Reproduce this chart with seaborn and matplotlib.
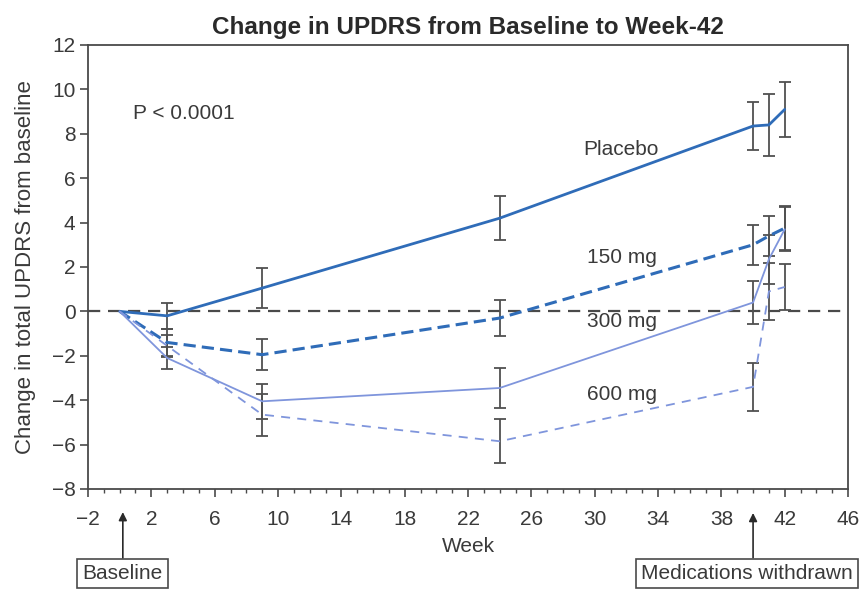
import matplotlib
matplotlib.use('Agg')
import matplotlib.pyplot as plt
from matplotlib.ticker import MultipleLocator, FixedLocator
import numpy as np
import pandas as pd
import seaborn as sns

# data (weeks, mean change, half-width of error bar)
weeks = [0, 3, 9, 24, 40, 41, 42]

placebo = [0, -0.2, 1.05, 4.2, 8.35, 8.4, 9.1]
placebo_err = [0, 0.6, 0.9, 1.0, 1.1, 1.4, 1.25]

mg150 = [0, -1.4, -1.95, -0.3, 3.0, 3.4, 3.75]
mg150_err = [0, 0.6, 0.7, 0.8, 0.9, 0.9, 1.0]

mg300 = [0, -2.1, -4.05, -3.45, 0.4, 2.35, 3.7]
mg300_err = [0, 0.5, 0.8, 0.9, 0.95, 1.1, 1.0]

mg600 = [0, -1.55, -4.65, -5.85, -3.4, 0.9, 1.1]
mg600_err = [0, 0.5, 0.95, 1.0, 1.07, 1.3, 1.05]

groups = ['Placebo', '150 mg', '300 mg', '600 mg']

xticks = list(range(-2, 47, 4))
yticks = list(range(-8, 13, 2))

df = pd.concat([
    pd.DataFrame({'Week': weeks, 'Change': placebo, 'Err': placebo_err, 'Group': 'Placebo'}),
    pd.DataFrame({'Week': weeks, 'Change': mg150, 'Err': mg150_err, 'Group': '150 mg'}),
    pd.DataFrame({'Week': weeks, 'Change': mg300, 'Err': mg300_err, 'Group': '300 mg'}),
    pd.DataFrame({'Week': weeks, 'Change': mg600, 'Err': mg600_err, 'Group': '600 mg'}),
], ignore_index=True)

# line look per group
styles = {
    'Placebo': dict(color='#2f6cb8', lw=2.0, dashes=None),
    '150 mg': dict(color='#2f6cb8', lw=2.2, dashes=(4, 2)),
    '300 mg': dict(color='#7f95dc', lw=1.3, dashes=None),
    '600 mg': dict(color='#7f95dc', lw=1.3, dashes=(5, 4)),
}
# where the group names sit
label_pos = {'Placebo': (29.3, 7.3), '150 mg': (29.5, 2.45),
             '300 mg': (29.5, -0.45), '600 mg': (29.5, -3.75)}

sns.set_theme(style='ticks')
plt.rcParams['font.family'] = ['Liberation Sans', 'DejaVu Sans']

fig = plt.figure(figsize=(8.61, 5.89), dpi=100)
ax = fig.add_axes([0.1022, 0.1698, 0.8828, 0.7538])

gray = '#4a4a4a'
tcol = '#3a3a3a'
fs = 15

# zero reference line
ax.axhline(0, color=gray, lw=1.6, dashes=(5.5, 3.5), zorder=1)

for g in groups:
    sub = df[df['Group'] == g]
    st = styles[g]
    line = sns.lineplot(data=sub, x='Week', y='Change', ax=ax, color=st['color'],
                        lw=st['lw'], zorder=3, legend=False)
    if st['dashes'] is not None:
        line.lines[-1].set_dashes(st['dashes'])
    e = sub[sub['Week'] > 0]
    ax.errorbar(e['Week'], e['Change'], yerr=e['Err'], fmt='none', ecolor='#505050',
                elinewidth=1.3, capsize=4, capthick=1.3, zorder=2)
    ax.text(label_pos[g][0], label_pos[g][1], g, fontsize=fs, color=tcol,
            ha='left', va='center', zorder=4)

ax.text(0.85, 8.9, 'P < 0.0001', fontsize=fs, color=tcol, ha='left', va='center')

ax.set_xlim(-2, 46)
ax.set_ylim(-8, 12)
ax.xaxis.set_major_locator(FixedLocator(xticks))
ax.xaxis.set_minor_locator(MultipleLocator(1))
ax.yaxis.set_major_locator(FixedLocator(yticks))
ax.set_xticklabels(['\u2212%d' % -t if t < 0 else str(t) for t in xticks])
ax.set_yticklabels(['\u2212%d' % -t if t < 0 else str(t) for t in yticks])

ax.tick_params(axis='both', which='major', direction='out', length=6, width=1.2,
               color=gray, labelsize=fs, labelcolor=tcol, pad=3)
ax.tick_params(axis='x', which='major', pad=9)
ax.tick_params(axis='x', which='minor', direction='out', length=3, width=1.0, color=gray)
for s in ax.spines.values():
    s.set_visible(True)
    s.set_color(gray)
    s.set_linewidth(1.3)

ax.set_xlabel('Week', fontsize=fs, color=tcol, labelpad=6)
ax.set_ylabel('Change in total UPDRS from baseline', fontsize=16, color=tcol, labelpad=11)
ax.set_title('Change in UPDRS from Baseline to Week-42', fontsize=17.5, fontweight='bold',
             color='#2a2a2a', pad=8)

# boxed annotations below the axis
box = dict(boxstyle='square,pad=0.25', fc='white', ec=gray, lw=1.2)
arrow = dict(arrowstyle='-|>', color='#2a2a2a', lw=1.2, mutation_scale=12, shrinkA=0, shrinkB=0)
ax.annotate('Baseline', xy=(0.2, -0.052), xycoords=('data', 'axes fraction'),
            xytext=(0.2, -0.19), textcoords=('data', 'axes fraction'),
            ha='center', va='center', fontsize=fs, color=tcol, bbox=box,
            arrowprops=arrow, annotation_clip=False)
ax.annotate('', xy=(40, -0.054), xycoords=('data', 'axes fraction'),
            xytext=(40, -0.155), textcoords=('data', 'axes fraction'),
            arrowprops=arrow, annotation_clip=False)
ax.text(39.6, -0.19, 'Medications withdrawn', transform=ax.get_xaxis_transform(),
        ha='center', va='center', fontsize=fs, color=tcol, bbox=box, clip_on=False)

fig.savefig('out.png', dpi=100)
